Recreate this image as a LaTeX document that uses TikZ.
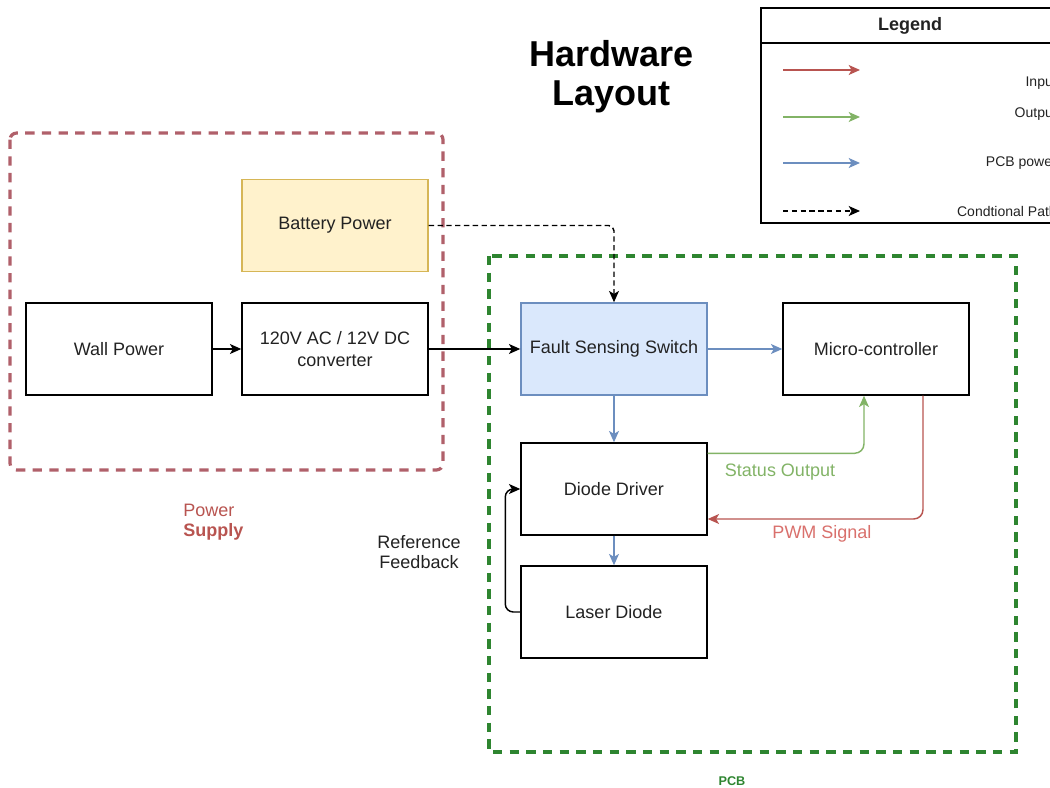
\documentclass[tikz,border=0pt]{standalone}
\usepackage{fontspec}
\setmainfont{Liberation Sans}
\usetikzlibrary{arrows.meta}
\definecolor{pblue}{HTML}{6C8EBF}
\definecolor{pgreen}{HTML}{82B366}
\definecolor{pred}{HTML}{B85450}
\definecolor{pwmtext}{HTML}{D9706C}
\definecolor{psred}{HTML}{B0606A}
\definecolor{pcbgreen}{HTML}{2E8530}
\definecolor{battfill}{HTML}{FFF2CC}
\definecolor{battdraw}{HTML}{D6B656}
\definecolor{faultfill}{HTML}{DAE8FC}
\definecolor{txtgray}{HTML}{222222}
\begin{document}
\begin{tikzpicture}[x=0.75pt,y=-0.75pt,
  >={Stealth[length=8.5pt,width=7.5pt,inset=2.2pt]},
  blk/.style={draw, line width=1.1pt, minimum width=139.5pt, minimum height=69pt,
    inner sep=0pt, align=center, text=txtgray, font=\fontsize{13.5}{16.5}\selectfont},
  conn/.style={line width=1.1pt, ->},
  blueconn/.style={conn, draw=pblue},
  greenconn/.style={conn, draw=pgreen},
  redconn/.style={conn, draw=pred},
  condconn/.style={conn, dash pattern=on 4pt off 2.6pt},
  lbl/.style={inner sep=0pt, align=center, font=\fontsize{13.5}{15}\selectfont},
  legtxt/.style={inner sep=0pt, anchor=east, text=txtgray, font=\fontsize{10.5}{12}\selectfont},
  container/.style={line width=2.4pt, dash pattern=on 7pt off 5.5pt}
]
\useasboundingbox (0,0) rectangle (1050,788);
\clip (0,0) rectangle (1050,788);

% containers
\draw[container, draw=psred, rounded corners=5pt] (10,133) rectangle (443,470);
\draw[container, draw=pcbgreen] (489,256) rectangle (1016,752);

% title
\node[inner sep=0pt, anchor=base, font=\fontsize{27}{30}\selectfont\bfseries] (title1) at (611.5,67) {Hardware};
\node[inner sep=0pt, anchor=base, font=\fontsize{27}{30}\selectfont\bfseries] (title2) at (611.5,106) {Layout};

% legend
\draw[line width=1.1pt] (1070,8) -- (761,8) -- (761,223) -- (1070,223);
\draw[line width=1.1pt] (761,43) -- (1070,43);
\node[inner sep=0pt, text=txtgray, font=\fontsize{13.5}{16}\selectfont\bfseries] (legtitle) at (910,26) {Legend};
\coordinate (li1) at (783,70);  \coordinate (li2) at (860,70);
\coordinate (lo1) at (783,117); \coordinate (lo2) at (860,117);
\coordinate (lp1) at (783,163); \coordinate (lp2) at (860,163);
\coordinate (lc1) at (783,211); \coordinate (lc2) at (860,211);
\draw[redconn] (li1) -- (li2);
\draw[greenconn] (lo1) -- (lo2);
\draw[blueconn] (lp1) -- (lp2);
\draw[condconn] (lc1) -- (lc2);
\node[legtxt] (lgin) at (1057,83) {Input};
\node[legtxt] (lgout) at (1057,114) {Output};
\node[legtxt] (lgpcb) at (1057,163) {PCB power};
\node[legtxt] (lgcond) at (1057,211) {Condtional Path};

% blocks
\node[blk, fill=battfill, draw=battdraw] (batt) at (335,225.5) {Battery Power};
\node[blk] (wall) at (119,349) {Wall Power};
\node[blk] (conv) at (335,349) {120V AC / 12V DC\\converter};
\node[blk, fill=faultfill, draw=pblue] (fault) at (614,349) {Fault Sensing Switch};
\node[blk] (micro) at (876,349) {Micro-controller};
\node[blk] (driver) at (614,489) {Diode Driver};
\node[blk] (laser) at (614,612) {Laser Diode};

% connectors
\draw[conn] (wall) -- (conv);
\draw[conn] (conv) -- (fault);
\draw[condconn, rounded corners=4pt] (batt.east) -| (fault.north);
\draw[blueconn] (fault) -- (micro);
\draw[blueconn] (fault) -- (driver);
\draw[blueconn] (driver) -- (laser);
\draw[greenconn, rounded corners=7pt] ([yshift=-8.25pt]driver.north east) -| ([xshift=-9pt]micro.south);
\draw[redconn, rounded corners=7pt] ([xshift=35.25pt]micro.south) |- ([yshift=-22.5pt]driver.east);
\draw[conn, rounded corners=6pt] (laser.west) -- ++(-15,0) |- (driver.west);

% labels
\node[lbl, text=pgreen] (status) at (780,472) {Status Output};
\node[lbl, text=pwmtext] (pwm) at (822,534) {PWM Signal};
\node[lbl, text=txtgray] (reffb) at (419,552) {Reference\\Feedback};
\node[lbl, text=pred, align=left, anchor=west] (psup) at (183,522) {Power\\\textbf{Supply}};
\node[inner sep=0pt, text=pcbgreen, font=\fontsize{9.5}{10}\selectfont\bfseries] (pcblbl) at (732,781) {PCB};
\end{tikzpicture}
\end{document}
